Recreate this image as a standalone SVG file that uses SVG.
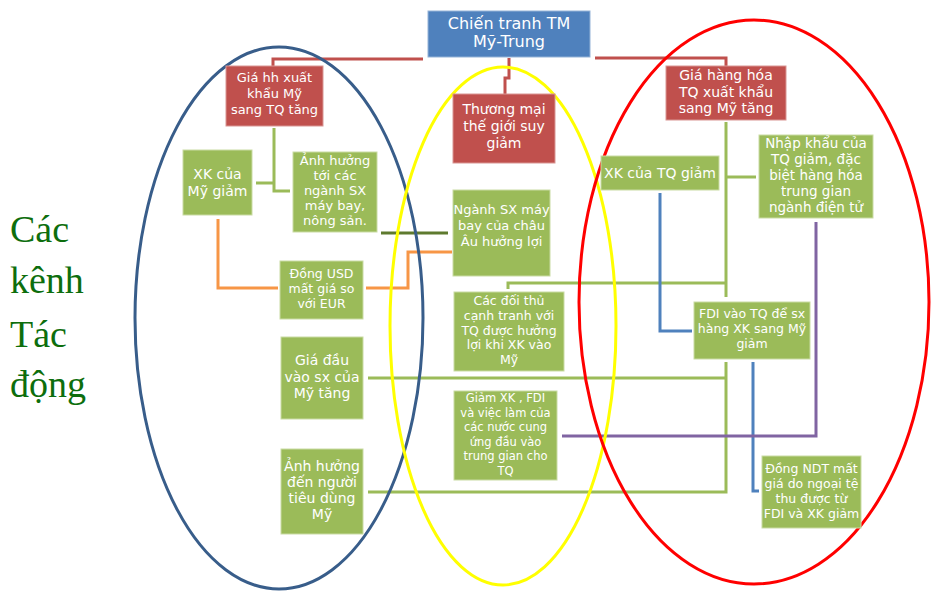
<svg xmlns="http://www.w3.org/2000/svg" width="931" height="592" viewBox="0 0 931 592">
<style>
.g{fill:#9bbb59;stroke:#c9dba4;stroke-width:1}
.r{fill:#c0504d;stroke:#d99694;stroke-width:1}
.b{fill:#4f81bd;stroke:#95b3d7;stroke-width:1}
.t{font-family:"DejaVu Sans",sans-serif;fill:#ffffff;text-anchor:middle}
.c{fill:none;stroke-width:3;stroke-linejoin:miter}
.cg{stroke:#9bbb59}.cr{stroke:#c0504d}.co{stroke:#f79646}.cb{stroke:#4f81bd}.cp{stroke:#8064a2}.cd{stroke:#5e7a2e}
.e{fill:none;stroke-width:3}
.side{font-family:"Liberation Serif",serif;font-size:38px;fill:#0d6e0d}
</style>
<rect width="931" height="592" fill="#ffffff"/>
<g id="connectors">
<polyline class="c cr" points="423,59 273,59 273,66"/>
<polyline class="c cr" points="595,58 726,58 726,66"/>
<polyline class="c cr" points="509,58 509,78 505,78 505,94"/>
<polyline class="c cg" points="274,128 274,191 290,191"/>
<polyline class="c cg" points="256,183 274,183"/>
<polyline class="c cd" points="381,233 448,233"/>
<polyline class="c co" points="218,219 218,288 278,288"/>
<polyline class="c co" points="366,288 408,288 408,252 452,252"/>
<polyline class="c cg" points="726,122 726,297"/>
<polyline class="c cg" points="726,177 756,177"/>
<polyline class="c cg" points="508,289 508,283 726,283"/>
<polyline class="c cg" points="726,362 726,492 368,492"/>
<polyline class="c cg" points="368,378 726,378"/>
<polyline class="c cb" points="660,193 660,331 692,331"/>
<polyline class="c cb" points="753,362 753,491 759,491"/>
<polyline class="c cp" points="816,222 816,436 562,436"/>
</g>
<g id="ellipses">
<ellipse class="e" cx="279" cy="318" rx="144" ry="271" stroke="#385d8a"/>
<ellipse class="e" cx="503" cy="326" rx="113" ry="259" stroke="#ffff00"/>
<ellipse class="e" cx="754" cy="302" rx="175" ry="282" stroke="#ff0000"/>
</g>
<g id="n-title"><rect class="b" x="428" y="11" width="162" height="46"/>
<text class="t" font-size="16"><tspan x="509" y="29">Chiến tranh TM</tspan><tspan x="509" y="47">Mỹ-Trung</tspan></text></g>
<g id="n-gia-hh-my"><rect class="r" x="226" y="66" width="97" height="60"/>
<text class="t" font-size="13"><tspan x="274.5" y="82">Giá hh xuất</tspan><tspan x="274.5" y="98">khẩu Mỹ</tspan><tspan x="274.5" y="114">sang TQ tăng</tspan></text></g>
<g id="n-thuong-mai"><rect class="r" x="453" y="94" width="102" height="69"/>
<text class="t" font-size="14"><tspan x="504" y="114">Thương mại</tspan><tspan x="504" y="131">thế giới suy</tspan><tspan x="504" y="148">giảm</tspan></text></g>
<g id="n-gia-hh-tq"><rect class="r" x="666" y="66" width="120" height="54"/>
<text class="t" font-size="14"><tspan x="726" y="80">Giá hàng hóa</tspan><tspan x="726" y="96.5">TQ xuất khẩu</tspan><tspan x="726" y="113">sang Mỹ tăng</tspan></text></g>
<g id="n-xk-my"><rect class="g" x="183" y="150" width="69" height="65"/>
<text class="t" font-size="14"><tspan x="217.5" y="179">XK của</tspan><tspan x="217.5" y="196">Mỹ giảm</tspan></text></g>
<g id="n-anh-huong-sx"><rect class="g" x="293" y="152" width="84" height="80"/>
<text class="t" font-size="13"><tspan x="335" y="165">Ảnh hưởng</tspan><tspan x="335" y="180">tới các</tspan><tspan x="335" y="195">ngành SX</tspan><tspan x="335" y="210">máy bay,</tspan><tspan x="335" y="225">nông sản.</tspan></text></g>
<g id="n-chau-au"><rect class="g" x="453" y="190" width="97" height="86"/>
<text class="t" font-size="13"><tspan x="501.5" y="214">Ngành SX máy</tspan><tspan x="501.5" y="230">bay của châu</tspan><tspan x="501.5" y="246">Âu hưởng lợi</tspan></text></g>
<g id="n-usd"><rect class="g" x="280" y="261" width="83" height="58"/>
<text class="t" font-size="12.5"><tspan x="321.5" y="278">Đồng USD</tspan><tspan x="321.5" y="293">mất giá so</tspan><tspan x="321.5" y="308">với EUR</tspan></text></g>
<g id="n-doi-thu"><rect class="g" x="454" y="292" width="110" height="79"/>
<text class="t" font-size="12.5"><tspan x="509" y="305">Các đối thủ</tspan><tspan x="509" y="320">cạnh tranh với</tspan><tspan x="509" y="334.5">TQ được hưởng</tspan><tspan x="509" y="349">lợi khi XK vào</tspan><tspan x="509" y="364">Mỹ</tspan></text></g>
<g id="n-dau-vao"><rect class="g" x="281" y="337" width="82" height="82"/>
<text class="t" font-size="14"><tspan x="322" y="365">Giá đầu</tspan><tspan x="322" y="382">vào sx của</tspan><tspan x="322" y="398">Mỹ tăng</tspan></text></g>
<g id="n-tieu-dung"><rect class="g" x="281" y="449" width="82" height="85"/>
<text class="t" font-size="14"><tspan x="322" y="471">Ảnh hưởng</tspan><tspan x="322" y="487">đến người</tspan><tspan x="322" y="503">tiêu dùng</tspan><tspan x="322" y="519">Mỹ</tspan></text></g>
<g id="n-giam-xk"><rect class="g" x="454" y="391" width="103" height="89"/>
<text class="t" font-size="11.5"><tspan x="505.5" y="402">Giảm XK , FDI</tspan><tspan x="505.5" y="416.5">và việc làm của</tspan><tspan x="505.5" y="431">các nước cung</tspan><tspan x="505.5" y="445.5">ứng đầu vào</tspan><tspan x="505.5" y="460">trung gian cho</tspan><tspan x="505.5" y="474.5">TQ</tspan></text></g>
<g id="n-xk-tq"><rect class="g" x="601" y="156" width="118" height="34"/>
<text class="t" font-size="14"><tspan x="660" y="178">XK của TQ giảm</tspan></text></g>
<g id="n-nhap-khau"><rect class="g" x="759" y="135" width="114" height="83"/>
<text class="t" font-size="13.5"><tspan x="816" y="148">Nhập khẩu của</tspan><tspan x="816" y="164">TQ giảm, đặc</tspan><tspan x="816" y="180">biệt hàng hóa</tspan><tspan x="816" y="196">trung gian</tspan><tspan x="816" y="212">ngành điện tử</tspan></text></g>
<g id="n-fdi"><rect class="g" x="694" y="302" width="116" height="57"/>
<text class="t" font-size="12.5"><tspan x="752" y="318">FDI vào TQ để sx</tspan><tspan x="752" y="333">hàng XK sang Mỹ</tspan><tspan x="752" y="348">giảm</tspan></text></g>
<g id="n-ndt"><rect class="g" x="762" y="456" width="99" height="72"/>
<text class="t" font-size="12.5"><tspan x="811.5" y="473">Đồng NDT mất</tspan><tspan x="811.5" y="488">giá do ngoại tệ</tspan><tspan x="811.5" y="503">thu được từ</tspan><tspan x="811.5" y="518">FDI và XK giảm</tspan></text></g>
<g id="side-label">
<text class="side"><tspan x="10" y="242">Các</tspan><tspan x="10" y="293">kênh</tspan><tspan x="10" y="347">Tác</tspan><tspan x="10" y="397">động</tspan></text>
</g>
</svg>
